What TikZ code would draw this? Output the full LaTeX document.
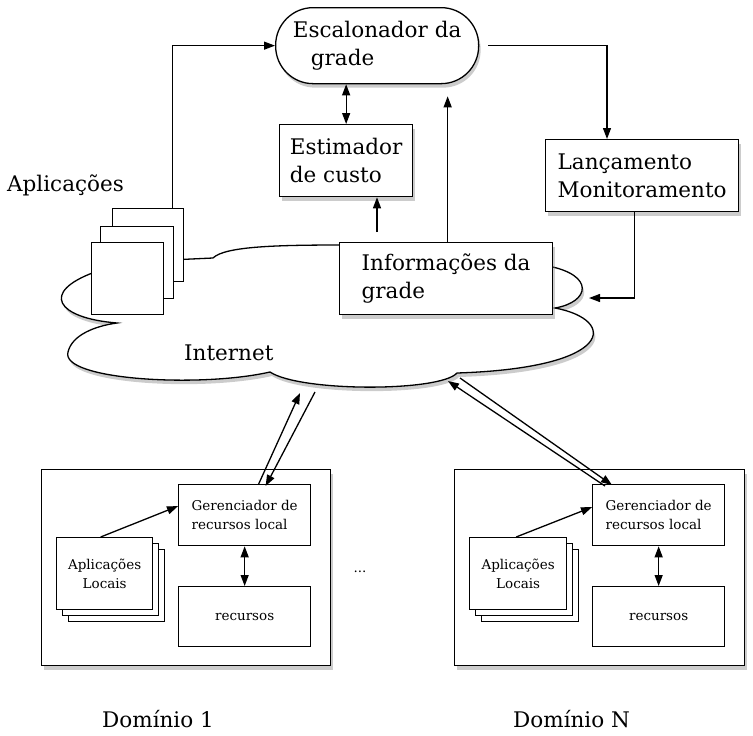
\documentclass[tikz,border=0pt]{standalone}
\usepackage{fontspec}
\setmainfont{DejaVu Serif}
\usetikzlibrary{arrows.meta, shadows}

\begin{document}
\begin{tikzpicture}[x=1pt,y=-1pt,
	caixa/.style={draw=black, fill=white, line width=1.3pt, inner sep=0pt, anchor=north west},
	sombra/.style={drop shadow={shadow xshift=2pt, shadow yshift=-4pt, opacity=.4}},
	grande/.style={font=\fontsize{21.5}{28}\selectfont},
	pequeno/.style={font=\fontsize{13.5}{18.5}\selectfont},
	seta/.style={-{Triangle[length=11pt,width=8pt]}, line width=1.3pt},
	dseta/.style={{Triangle[length=11pt,width=8pt]}-{Triangle[length=11pt,width=8pt]}, line width=1.3pt},
	rotulo/.style={anchor=base west, inner sep=0pt}]
	\useasboundingbox (0,0) rectangle (753,736);

	% nuvem
	\draw[line width=1.3pt, fill=white, sombra] (130,262) .. controls (170,260) .. (213,258)
		.. controls (225,246) and (280,245) .. (345,245) -- (548,266)
		.. controls (595,275) and (590,302) .. (555,308)
		.. controls (618,320) and (615,368) .. (457,373)
		.. controls (440,392) and (300,392) .. (270,372)
		.. controls (200,388) and (60,380) .. (68,352)
		.. controls (72,335) and (95,326) .. (117,323)
		.. controls (56,318) and (40,292) .. (95,272)
		.. controls (105,266) .. (130,262) -- cycle;
	\node[rotulo, grande] (Net) at (184,360) {Internet};

	% aplicacoes
	\node[caixa, minimum width=71pt, minimum height=73pt] (A1) at (112,208) {};
	\node[caixa, minimum width=73pt, minimum height=72pt] (A2) at (100,226) {};
	\node[caixa, minimum width=72pt, minimum height=72pt] (A3) at (91,242) {};
	\node[rotulo, grande] (Apl) at (7,191) {Aplicações};

	% grade
	\node[caixa, sombra, rounded corners=37.5pt, minimum width=203pt, minimum height=76pt, align=left, grande] (Esc) at (275,7) {Escalonador da\\\hspace*{18pt}grade};
	\node[caixa, sombra, minimum width=133pt, minimum height=72pt, align=left, grande] (Est) at (279,124) {Estimador\\de custo};
	\node[caixa, sombra, minimum width=193pt, minimum height=72pt, align=left, grande] (Lan) at (545,139) {Lançamento\\Monitoramento};
	\node[caixa, sombra, minimum width=213pt, minimum height=72pt, align=left, grande] (Inf) at (339,242) {Informações da\\grade};

	\coordinate (InfA) at ([xshift=38pt]Inf.north west);
	\coordinate (NetE) at (589,298);
	\draw[seta] ([xshift=-12pt]A1.north east) |- (Esc.west);
	\draw[seta, shorten <=9pt] (Esc.east) -| ([xshift=62pt]Lan.north west);
	\draw[dseta] (Est.north |- Esc.south) -- (Est.north);
	\draw[seta, shorten <=10pt] (InfA) -- (InfA |- Est.south);
	\draw[seta, shorten >=12pt] ([xshift=1.5pt]Inf.north) -- ([xshift=1.5pt]Inf.north |- Esc.south);
	\draw[seta] ([xshift=-8pt]Lan.south) |- (NetE);

	% dominio 1
	\node[caixa, sombra, minimum width=289pt, minimum height=196pt] (D1) at (41,469) {};
	\node[caixa, minimum width=132pt, minimum height=61pt, align=left, pequeno] (G1) at (178,484) {Gerenciador de\\recursos local};
	\node[caixa, minimum width=132pt, minimum height=60pt, pequeno] (R1) at (178,586) {recursos};
	\node[caixa, minimum width=96pt, minimum height=72pt] (L1c) at (68,549) {};
	\node[caixa, minimum width=96pt, minimum height=72pt] (L1b) at (62,543) {};
	\node[caixa, minimum width=96pt, minimum height=72pt, align=center, pequeno] (L1) at (56,537) {Aplicações\\Locais};
	\draw[dseta] (G1.south) -- (R1.north);
	\draw[seta] ([xshift=-4pt]L1.north) -- ([yshift=9pt]G1.west);
	\coordinate (N1a) at (300,393);
	\coordinate (N1b) at (315,392);
	\draw[seta] ([xshift=14pt]G1.north) -- (N1a);
	\draw[seta] (N1b) -- ([xshift=21pt,yshift=-2pt]G1.north);
	\node[grande, rotulo] (Dom1) at (102,727) {Domínio 1};

	\node[pequeno, anchor=base] (Pts) at (360,572) {...};

	% dominio N
	\node[caixa, sombra, minimum width=290pt, minimum height=196pt] (DN) at (454,469) {};
	\node[caixa, minimum width=132pt, minimum height=61pt, align=left, pequeno] (GN) at (592,484) {Gerenciador de\\recursos local};
	\node[caixa, minimum width=132pt, minimum height=60pt, pequeno] (RN) at (592,586) {recursos};
	\node[caixa, minimum width=97pt, minimum height=72pt] (LNc) at (481,549) {};
	\node[caixa, minimum width=97pt, minimum height=72pt] (LNb) at (475,543) {};
	\node[caixa, minimum width=97pt, minimum height=72pt, align=center, pequeno] (LN) at (469,537) {Aplicações\\Locais};
	\draw[dseta] (GN.south) -- (RN.north);
	\draw[seta] ([xshift=-2pt]LN.north) -- ([yshift=8pt]GN.west);
	\coordinate (NNa) at (448,381);
	\coordinate (NNb) at (460,378);
	\draw[seta] ([xshift=13pt,yshift=-2pt]GN.north west) -- (NNa);
	\draw[seta] (NNb) -- ([xshift=20pt,yshift=-1pt]GN.north west);
	\node[grande, rotulo] (DomN) at (513,727) {Domínio N};
\end{tikzpicture}
\end{document}
